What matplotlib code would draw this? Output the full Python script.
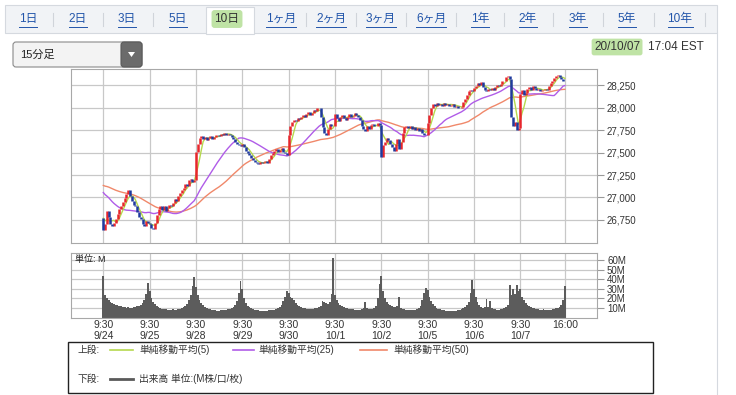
import numpy as np
import matplotlib
matplotlib.use("Agg")
import matplotlib.pyplot as plt
from matplotlib.patches import Rectangle, FancyBboxPatch, Polygon

plt.rcParams['font.family'] = ['Liberation Sans', 'Noto Sans CJK JP', 'DejaVu Sans']

# closes before the window (9/22, 9/23), only used to seed the moving averages
prev_0922 = [27120, 27080, 27050, 27100, 27140, 27160, 27180, 27150, 27170, 27200, 27190, 27220,
             27210, 27230, 27250, 27240, 27230, 27260, 27250, 27270, 27260, 27280, 27300, 27290]
prev_0923 = [27290, 27310, 27280, 27250, 27230, 27260, 27240, 27200, 27180, 27210, 27190, 27160, 27150,
             27170, 27140, 27100, 27060, 27020, 26980, 26950, 26900, 26860, 26840, 26810, 26790, 26770]

# 15 minute closes, 26 bars per day
close_0924 = [26640, 26700, 26850, 26780, 26700, 26680, 26720, 26760, 26820, 26870, 26900, 26950, 26990,
              27040, 27080, 27020, 26960, 26920, 26900, 26840, 26780, 26760, 26700, 26680, 26740, 26720]
close_0925 = [26700, 26660, 26650, 26720, 26800, 26870, 26910, 26860, 26900, 26850, 26880, 26920, 26900,
              26940, 26980, 26960, 27020, 27050, 27080, 27110, 27150, 27130, 27190, 27210, 27170, 27190]
close_0928 = [27510, 27600, 27660, 27680, 27650, 27670, 27640, 27660, 27680, 27650, 27670, 27690, 27700,
              27680, 27710, 27700, 27720, 27690, 27710, 27700, 27670, 27650, 27620, 27600, 27580, 27570]
close_0929 = [27590, 27560, 27520, 27500, 27470, 27440, 27420, 27400, 27380, 27370, 27400, 27380, 27390,
              27410, 27380, 27430, 27470, 27500, 27520, 27540, 27510, 27530, 27550, 27510, 27490, 27470]
close_0930 = [27700, 27800, 27840, 27860, 27850, 27880, 27870, 27900, 27920, 27890, 27930, 27950, 27920,
              27940, 27970, 27960, 27990, 28000, 27900, 27780, 27720, 27700, 27760, 27820, 27800, 27790]
close_1001 = [27930, 27880, 27850, 27900, 27920, 27880, 27860, 27900, 27930, 27890, 27910, 27940, 27920,
              27900, 27860, 27800, 27760, 27740, 27790, 27760, 27810, 27820, 27790, 27800, 27830, 27810]
close_1002 = [27450, 27580, 27620, 27660, 27640, 27600, 27560, 27520, 27600, 27650, 27540, 27620, 27720,
              27780, 27800, 27770, 27790, 27760, 27780, 27750, 27770, 27740, 27760, 27720, 27700, 27690]
close_1005 = [27830, 27920, 28000, 28040, 28020, 28050, 28030, 28040, 28020, 28050, 28030, 28040, 28020,
              28030, 28040, 28010, 28020, 27990, 28000, 28010, 28060, 28100, 28140, 28180, 28200, 28180]
close_1006 = [28220, 28240, 28270, 28250, 28280, 28230, 28200, 28180, 28210, 28190, 28220, 28200, 28230,
              28250, 28240, 28260, 28290, 28300, 28340, 28350, 28320, 27900, 27800, 27840, 27750, 27770]
close_1007 = [28150, 28200, 28140, 28160, 28210, 28230, 28200, 28240, 28220, 28190, 28210, 28180, 28200,
              28190, 28210, 28200, 28240, 28270, 28300, 28330, 28350, 28360, 28340, 28320, 28300, 28300]

# volume in millions
vol_0924 = [43, 24, 21, 18, 16, 15, 14, 13, 13, 12, 12, 11, 11, 10, 11, 10, 10, 11, 11, 12, 12, 13, 15, 18, 25, 36]
vol_0925 = [28, 20, 16, 14, 12, 11, 10, 9, 9, 9, 8, 8, 8, 9, 8, 8, 9, 9, 10, 11, 12, 14, 18, 24, 33, 42]
vol_0928 = [32, 24, 18, 15, 13, 11, 10, 9, 9, 8, 8, 8, 7, 7, 8, 8, 8, 8, 9, 9, 10, 11, 13, 17, 26, 38]
vol_0929 = [30, 20, 15, 12, 11, 10, 9, 8, 8, 8, 7, 7, 7, 7, 7, 8, 8, 8, 8, 9, 10, 11, 13, 17, 22, 28]
vol_0930 = [26, 22, 20, 18, 15, 13, 12, 11, 10, 10, 9, 9, 9, 9, 9, 10, 10, 11, 12, 17, 16, 15, 14, 16, 25, 62]
vol_1001 = [24, 18, 15, 13, 12, 11, 10, 10, 9, 9, 9, 8, 8, 8, 8, 9, 10, 16, 10, 9, 9, 9, 10, 12, 20, 35]
vol_1002 = [43, 28, 20, 16, 14, 13, 12, 11, 11, 12, 22, 10, 9, 9, 8, 8, 8, 8, 8, 8, 9, 10, 12, 18, 26, 31]
vol_1005 = [29, 22, 17, 14, 12, 10, 9, 9, 8, 8, 7, 7, 7, 7, 7, 7, 7, 8, 8, 9, 10, 11, 13, 16, 26, 39]
vol_1006 = [30, 22, 16, 13, 11, 10, 11, 19, 11, 17, 10, 9, 9, 8, 8, 9, 9, 10, 11, 13, 34, 24, 30, 25, 34, 28]
vol_1007 = [30, 22, 18, 15, 13, 12, 11, 10, 10, 9, 9, 8, 8, 9, 8, 8, 8, 8, 9, 9, 10, 10, 11, 13, 18, 33]

day_labels = ['9/24', '9/25', '9/28', '9/29', '9/30', '10/1', '10/2', '10/5', '10/6', '10/7']
price_ticks = [26750, 27000, 27250, 27500, 27750, 28000, 28250]
vol_ticks = [10, 20, 30, 40, 50, 60]
tabs = ['1日', '2日', '3日', '5日', '10日', '1ヶ月', '2ヶ月', '3ヶ月', '6ヶ月', '1年', '2年', '3年', '5年', '10年']
tab_x = [28, 78, 127, 178, 227, 281, 331, 381, 431, 480, 528, 578, 627, 680]

closes = np.array(close_0924 + close_0925 + close_0928 + close_0929 + close_0930 +
                  close_1001 + close_1002 + close_1005 + close_1006 + close_1007, dtype=float)
vols = np.array(vol_0924 + vol_0925 + vol_0928 + vol_0929 + vol_0930 +
                vol_1001 + vol_1002 + vol_1005 + vol_1006 + vol_1007, dtype=float)
seed = np.array(prev_0922 + prev_0923, dtype=float)
allc = np.concatenate([seed, closes])
n0 = len(seed)
x = np.arange(len(closes))
opens = allc[n0 - 1:-1]


def sma(k):
    m = np.convolve(allc, np.ones(k) / k, mode='valid')
    return m[n0 - k + 1:]


W, H = 736, 395
fig = plt.figure(figsize=(W / 100, H / 100), dpi=100)


def box(l, t, r, b):
    return [l / W, 1 - b / H, (r - l) / W, (b - t) / H]


# page decorations
bg = fig.add_axes([0, 0, 1, 1])
bg.set_xlim(0, W)
bg.set_ylim(H, 0)
bg.axis('off')
bg.add_patch(Rectangle((5, 5), 712, 28, fc='#f1f3f6', ec='#d5d9df', lw=0.8))
bg.add_patch(Rectangle((206, 7), 48, 27, fc='white', ec='#d5d9df', lw=0.8))
bg.plot([717, 717], [33, 395], color='#d5d9df', lw=0.8)
renderer = fig.canvas.get_renderer()
for i, (t, tx) in enumerate(zip(tabs, tab_x)):
    if t == '10日':
        txt = bg.text(tx, 19, t, ha='center', va='center', fontsize=8.5, color='#333333',
                      bbox=dict(boxstyle='round,pad=0.25', fc='#bfe3a5', ec='none'))
    else:
        txt = bg.text(tx, 19, t, ha='center', va='center', fontsize=8.5, color='#2255aa')
        ext = txt.get_window_extent(renderer)
        bg.plot([ext.x0, ext.x1], [27, 27], color='#2255aa', lw=0.7)
    if i < len(tabs) - 1 and t != '10日' and tabs[i + 1] != '10日':
        sx = (tx + tab_x[i + 1]) / 2
        bg.plot([sx, sx], [13, 26], color='#d0d4da', lw=0.8)
bg.plot([705, 705], [13, 26], color='#d0d4da', lw=0.8)

bg.add_patch(FancyBboxPatch((13, 42), 129, 25, boxstyle='round,pad=0,rounding_size=3',
                            fc='#f3f3f3', ec='#8a8a8a', lw=0.8))
bg.add_patch(FancyBboxPatch((121, 42), 21, 25, boxstyle='round,pad=0,rounding_size=3',
                            fc='#6b6b6b', ec='#5a5a5a', lw=0.8))
bg.add_patch(Polygon([(128, 52), (135, 52), (131.5, 57)], fc='white', ec='none'))
bg.text(20, 55, '15分足', va='center', fontsize=8, color='#222222')

bg.text(594, 47, '20/10/07', va='center', fontsize=8.5, color='#333333',
        bbox=dict(boxstyle='round,pad=0.2', fc='#bfe3a5', ec='none'))
bg.text(648, 47, '17:04 EST', va='center', fontsize=8.5, color='#333333')

# legend box
bg.add_patch(Rectangle((68, 342), 585, 51, fc='none', ec='#222222', lw=1))
bg.text(77, 350, '上段:', va='center', fontsize=7, color='#333333')
bg.text(77, 379, '下段:', va='center', fontsize=7, color='#333333')
bg.plot([110, 133], [350, 350], color='#b5d84e', lw=1.2)
bg.text(139, 350, '単純移動平均(5)', va='center', fontsize=7, color='#333333')
bg.plot([233, 254], [350, 350], color='#b05ce8', lw=1.2)
bg.text(258, 350, '単純移動平均(25)', va='center', fontsize=7, color='#333333')
bg.plot([360, 387], [350, 350], color='#f0886a', lw=1.2)
bg.text(393, 350, '単純移動平均(50)', va='center', fontsize=7, color='#333333')
bg.plot([110, 133], [379, 379], color='#5a5a5a', lw=2)
bg.text(139, 379, '出来高 単位:(M株/口/枚)', va='center', fontsize=7, color='#333333')

xlim = (-18.3, 277.2)
day_x = [26 * d for d in range(10)] + [259]

# price panel
ax = fig.add_axes(box(70.7, 69, 597.3, 243.3))
ax.plot(x, sma(50), color='#f0886a', lw=1.0, zorder=2)
ax.plot(x, sma(25), color='#b05ce8', lw=1.0, zorder=2)
ax.plot(x, sma(5), color='#b5d84e', lw=1.0, zorder=2)
up = closes >= opens
ax.vlines(x[up], opens[up], closes[up], color='#e8262c', lw=1.8, zorder=3)
ax.vlines(x[~up], closes[~up], opens[~up], color='#1f3a9e', lw=1.8, zorder=3)
ax.set_xlim(*xlim)
ax.set_ylim(26491, 28428)
ax.set_xticks(day_x)
ax.tick_params(axis='x', length=0, labelbottom=False)
ax.yaxis.tick_right()
ax.set_yticks(price_ticks)
ax.set_yticklabels(['{:,}'.format(v) for v in price_ticks])
ax.tick_params(axis='y', length=5, color='#999999', labelsize=7, labelcolor='#333333', pad=2)
ax.grid(True, color='#c8c8c8', lw=0.9, zorder=0)
ax.set_axisbelow(True)
for s in ax.spines.values():
    s.set_color('#a8a8a8')

# volume panel
av = fig.add_axes(box(70.7, 253.3, 597.3, 317.7))
av.bar(x, vols, width=1.0, color='#5c5c5c', lw=0, zorder=2)
av.set_xlim(*xlim)
av.set_ylim(0, 67)
av.set_xticks(day_x)
av.set_xticklabels(['9:30\n' + d for d in day_labels] + ['16:00'], linespacing=1.05)
av.tick_params(axis='x', length=0, labelsize=7.5, labelcolor='#333333', pad=2)
av.yaxis.tick_right()
av.set_yticks(vol_ticks)
av.set_yticklabels([str(v) + 'M' for v in vol_ticks])
av.tick_params(axis='y', length=5, color='#999999', labelsize=7, labelcolor='#333333', pad=2)
av.grid(True, color='#c8c8c8', lw=0.9, zorder=0)
av.set_axisbelow(True)
for s in av.spines.values():
    s.set_color('#a8a8a8')
av.text(0.008, 0.9, '単位: M', transform=av.transAxes, fontsize=6.5, color='#222222', va='center')

fig.savefig('out.png', dpi=100)
